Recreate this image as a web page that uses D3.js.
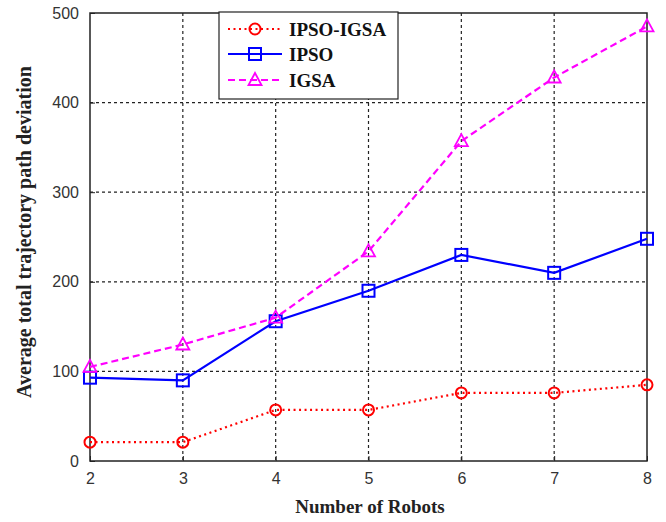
<!DOCTYPE html>
<html><head><meta charset="utf-8">
<script src="https://cdn.jsdelivr.net/npm/d3@7"></script>
<style>body{margin:0;background:#fff}</style>
</head><body>
<svg id="c" width="666" height="522"></svg>
<script>
const robots = [2,3,4,5,6,7,8];
const ipsoIgsa = [21,21,57,57,76,76,85];
const ipso = [93,90,156,190,230,210,248];
const igsa = [105,130,160,234,357,428,485];
const yTicks = [0,100,200,300,400,500];
const seriesNames = ["IPSO-IGSA","IPSO","IGSA"];

const svg = d3.select("#c");
const L=90,R=647,T=13,B=461;
const x = d3.scaleLinear().domain([2,8]).range([L,R]);
const y = d3.scaleLinear().domain([0,500]).range([B,T]);

// grid
const g = svg.append("g");
robots.slice(1,-1).forEach(v=>{
  g.append("line").attr("x1",x(v)).attr("x2",x(v)).attr("y1",T).attr("y2",B)
   .attr("stroke","#222").attr("stroke-width",1.2).attr("stroke-dasharray","3,3");
});
yTicks.slice(1,-1).forEach(v=>{
  g.append("line").attr("x1",L).attr("x2",R).attr("y1",y(v)).attr("y2",y(v))
   .attr("stroke","#222").attr("stroke-width",1.2).attr("stroke-dasharray","3,3");
});
// frame
svg.append("rect").attr("x",L).attr("y",T).attr("width",R-L).attr("height",B-T)
  .attr("fill","none").attr("stroke","#222").attr("stroke-width",1.5);

// axes
const xa = svg.append("g").attr("transform",`translate(0,${B})`)
  .call(d3.axisBottom(x).tickValues(robots).tickFormat(d3.format("d")).tickSizeInner(-5).tickSizeOuter(0).tickPadding(12));
const ya = svg.append("g").attr("transform",`translate(${L},0)`)
  .call(d3.axisLeft(y).tickValues(yTicks).tickSizeInner(-5).tickSizeOuter(0).tickPadding(10));
[xa,ya].forEach(a=>{
  a.select(".domain").remove();
  a.selectAll("line").attr("stroke","#222");
  a.selectAll("text").attr("font-family","Liberation Sans, Arial, sans-serif").attr("font-size",16).attr("fill","#333");
});
ya.selectAll("text").attr("dx",-1);

// labels
svg.append("text").attr("x",370).attr("y",513).attr("text-anchor","middle")
  .attr("font-family","Liberation Serif, Times New Roman, serif").attr("font-weight","bold").attr("font-size",19)
  .attr("fill","#222").text("Number of Robots");
svg.append("text").attr("transform","translate(31,232) rotate(-90)").attr("text-anchor","middle")
  .attr("font-family","Liberation Serif, Times New Roman, serif").attr("font-weight","bold").attr("font-size",20)
  .attr("fill","#222").text("Average total trajectory path deviation");

const styles = [
  {data:ipsoIgsa,color:"#ff0000",dash:"2,3.5",marker:"circle"},
  {data:ipso,color:"#0000ff",dash:null,marker:"square"},
  {data:igsa,color:"#ff00ff",dash:"7,4",marker:"triangle"}
];
const line = d3.line().x((d,i)=>x(robots[i])).y(d=>y(d));
function marker(sel,type,color){
  if(type==="circle") sel.append("circle").attr("r",5.5).attr("fill","none").attr("stroke",color).attr("stroke-width",2);
  else if(type==="square") sel.append("rect").attr("x",-6).attr("y",-6).attr("width",12).attr("height",12).attr("fill","none").attr("stroke",color).attr("stroke-width",2);
  else sel.append("path").attr("d","M0,-7L6.5,5L-6.5,5Z").attr("fill","none").attr("stroke",color).attr("stroke-width",1.8);
}
styles.forEach(s=>{
  svg.append("path").datum(s.data).attr("d",line).attr("fill","none")
    .attr("stroke",s.color).attr("stroke-width",2.2).attr("stroke-dasharray",s.dash);
  s.data.forEach((d,i)=>{
    const m = svg.append("g").attr("transform",`translate(${x(robots[i])},${y(d)})`);
    marker(m,s.marker,s.color);
  });
});

// legend
const lg = svg.append("g");
lg.append("rect").attr("x",219).attr("y",12).attr("width",179).attr("height",87)
  .attr("fill","#fff").attr("stroke","#222").attr("stroke-width",1.2);
const ly=[29,54,80];
styles.forEach((s,i)=>{
  lg.append("line").attr("x1",228).attr("x2",282).attr("y1",ly[i]).attr("y2",ly[i])
    .attr("stroke",s.color).attr("stroke-width",2).attr("stroke-dasharray",s.dash);
  const m = lg.append("g").attr("transform",`translate(255,${ly[i]})`);
  marker(m,s.marker,s.color);
  lg.append("text").attr("x",289).attr("y",ly[i]+7).attr("font-family","Liberation Serif, Times New Roman, serif")
    .attr("font-weight","bold").attr("font-size",19).attr("fill","#111").text(seriesNames[i]);
});
</script>
</body></html>
